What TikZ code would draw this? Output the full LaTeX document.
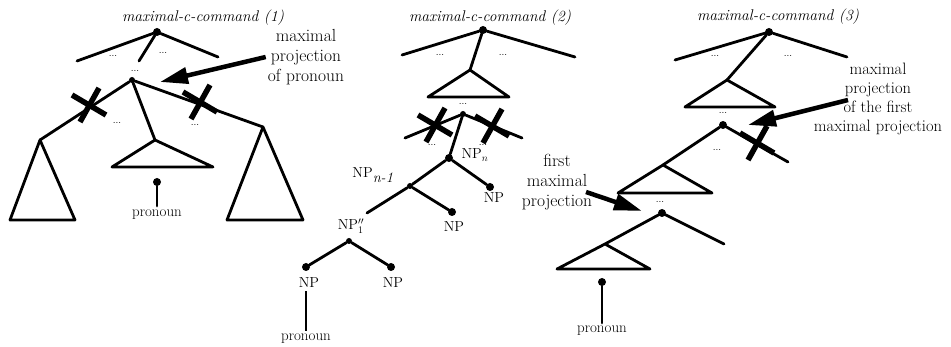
\documentclass[tikz,border=0pt]{standalone}
\usetikzlibrary{arrows.meta}
\tikzset{
  xmark/.pic={
    \draw[line width=5.5pt] (-9,17) -- (10,-17);
    \draw[line width=5.5pt] (-17,-10) -- (17,10);
  }
}
\begin{document}
\begin{tikzpicture}[x=1pt,y=-1pt,
  edge/.style={line width=2.8pt, line cap=round, line join=round},
  thinedge/.style={line width=1.4pt},
  dot/.style={circle, fill=black, inner sep=0pt, minimum size=8pt},
  sdot/.style={circle, fill=black, inner sep=0pt, minimum size=6pt},
  ttl/.style={font=\fontsize{15.5}{18}\selectfont\itshape, inner sep=0pt},
  lbl/.style={font=\fontsize{17.5}{20}\selectfont, align=center, inner sep=2pt},
  np/.style={font=\fontsize{14.5}{17}\selectfont, inner sep=0pt},
  pro/.style={font=\fontsize{15}{17}\selectfont, inner sep=0pt},
  dts/.style={font=\fontsize{10}{12}\selectfont, inner sep=0pt},
  bigarrow/.style={line width=4.5pt, -{Triangle[length=28pt,width=16pt]}},
]
\useasboundingbox (0,0) rectangle (951,347);

% ---------------- Tree 1 ----------------
\node[ttl] (t1) at (203,18) {maximal-c-command (1)};
\node[dot] (r1) at (157,32) {};
\coordinate (r1l) at (77,61);
\coordinate (r1r) at (218,57);
\coordinate (r1m) at (139,61);
\draw[edge] (r1) -- (r1l);
\draw[edge] (r1) -- (r1r);
\draw[edge] (r1) -- (r1m);
\node[dts] (d1a) at (113,56) {...};
\node[dts] (d1b) at (163,53) {...};
\node[dts] (d1c) at (135,71) {...};
\node[sdot] (m1) at (132,80) {};
\coordinate (a1L) at (40,140);
\coordinate (b1La) at (10,220);
\coordinate (b1Lb) at (75,220);
\coordinate (a1M) at (155,140);
\coordinate (b1Ma) at (112,167);
\coordinate (b1Mb) at (213,167);
\coordinate (a1R) at (263,127);
\coordinate (b1Ra) at (227,220);
\coordinate (b1Rb) at (303,220);
\draw[edge] (m1) -- (a1L);
\draw[edge] (m1) -- (a1M);
\draw[edge] (m1) -- (a1R);
\draw[edge] (a1L) -- (b1La) -- (b1Lb) -- cycle;
\draw[edge] (a1M) -- (b1Ma) -- (b1Mb) -- cycle;
\draw[edge] (a1R) -- (b1Ra) -- (b1Rb) -- cycle;
\node[dts] (d1d) at (117,123) {...};
\node[dts] (d1e) at (195,125) {...};
\pic at (89,105) {xmark};
\pic at (200,102) {xmark};
\node[dot] (p1) at (157,182) {};
\node[pro] (pr1) at (157,215) {pronoun};
\draw[edge] (p1) -- ([yshift=4pt]pr1.north);
\node[lbl] (l1) at (306,57) {maximal\\projection\\of pronoun};
\coordinate (l1h) at (160,82);
\draw[bigarrow] (l1.west) -- (l1h);

% ---------------- Tree 2 ----------------
\node[ttl] (t2) at (490,18) {maximal-c-command (2)};
\node[dot] (r2) at (483,30) {};
\coordinate (r2l) at (402,55);
\coordinate (r2r) at (575,57);
\coordinate (a2) at (470,70);
\coordinate (b2a) at (428,97);
\coordinate (b2b) at (509,97);
\draw[edge] (r2) -- (r2l);
\draw[edge] (r2) -- (r2r);
\draw[edge] (r2) -- (a2);
\draw[edge] (a2) -- (b2a) -- (b2b) -- cycle;
\node[dts] (d2a) at (440,55) {...};
\node[dts] (d2b) at (503,55) {...};
\node[dts] (d2c) at (463,104) {...};
\node[sdot] (m2) at (463,114) {};
\coordinate (x2l) at (405,138);
\coordinate (x2r) at (522,138);
\draw[edge] (m2) -- (x2l);
\draw[edge] (m2) -- (x2r);
\pic at (435,125) {xmark};
\pic at (492,126) {xmark};
\node[dts] (d2d) at (432,145) {...};
\node[dts] (d2e) at (483,145) {...};
\node[dot] (npn) at (449,158) {};
\draw[edge] (m2) -- (npn);
\node[np] (npnl) at (475,155) {NP$_n$};
\node[dot] (np1) at (490,187) {};
\node[np] (np1l) at (494,198) {NP};
\node[sdot] (npm) at (410,186) {};
\node[np] (npml) at (373,175) {NP$_{\textit{n-1}}$};
\draw[edge] (npn) -- (np1);
\draw[edge] (npn) -- (npm);
\coordinate (c2) at (367,213);
\node[dot] (np2) at (452,212) {};
\node[np] (np2l) at (454,227) {NP};
\draw[edge] (npm) -- (c2);
\draw[edge] (npm) -- (np2);
\node[np] (npql) at (351,226) {NP$_1^{\prime\prime}$};
\node[sdot] (npq) at (349,241) {};
\node[dot] (np3) at (306,267) {};
\node[np] (np3l) at (309,283) {NP};
\node[dot] (np4) at (391,267) {};
\node[np] (np4l) at (393,283) {NP};
\draw[edge] (npq) -- (np3);
\draw[edge] (npq) -- (np4);
\node[pro] (pr2) at (306,339) {pronoun};
\draw[thinedge] ([yshift=-3pt]np3l.south -| np3) -- ([yshift=3pt]pr2.north);

% ---------------- Tree 3 ----------------
\node[ttl] (t3) at (778,17) {maximal-c-command (3)};
\node[dot] (r3) at (769,32) {};
\coordinate (r3l) at (675,60);
\coordinate (r3r) at (847,57);
\coordinate (a3) at (727,80);
\coordinate (b3a) at (685,107);
\coordinate (b3b) at (775,107);
\draw[edge] (r3) -- (r3l);
\draw[edge] (r3) -- (r3r);
\draw[edge] (r3) -- (a3);
\draw[edge] (a3) -- (b3a) -- (b3b) -- cycle;
\node[dts] (d3a) at (715,56) {...};
\node[dts] (d3b) at (788,56) {...};
\node[dts] (d3c) at (723,113) {...};
\node[dot] (m3) at (723,125) {};
\coordinate (x3r) at (788,162);
\coordinate (a4) at (663,165);
\coordinate (b4a) at (618,193);
\coordinate (b4b) at (712,193);
\draw[edge] (m3) -- (x3r);
\draw[edge] (m3) -- (a4);
\draw[edge] (a4) -- (b4a) -- (b4b) -- cycle;
\pic at (757,143) {xmark};
\node[dts] (d3d) at (717,150) {...};
\node[dts] (d3e) at (660,202) {...};
\node[dot] (m4) at (662,213) {};
\coordinate (x4r) at (724,244);
\coordinate (a5) at (605,244);
\coordinate (b5a) at (557,269);
\coordinate (b5b) at (650,269);
\draw[edge] (m4) -- (x4r);
\draw[edge] (m4) -- (a5);
\draw[edge] (a5) -- (b5a) -- (b5b) -- cycle;
\node[dot] (p3) at (602,282) {};
\node[pro] (pr3) at (602,331) {pronoun};
\draw[edge] (p3) -- ([yshift=3pt]pr3.north);
\node[lbl] (l2) at (557,182) {first\\maximal\\projection};
\coordinate (l2t) at (586,192);
\coordinate (l2h) at (642,211);
\draw[bigarrow] (l2t) -- (l2h);
\node[lbl, font=\fontsize{16.5}{19}\selectfont] (l3) at (878,99) {maximal\\projection\\of the first\\maximal projection};
\coordinate (l3t) at (848,100);
\coordinate (l3h) at (748,125);
\draw[bigarrow] (l3t) -- (l3h);
\end{tikzpicture}
\end{document}
